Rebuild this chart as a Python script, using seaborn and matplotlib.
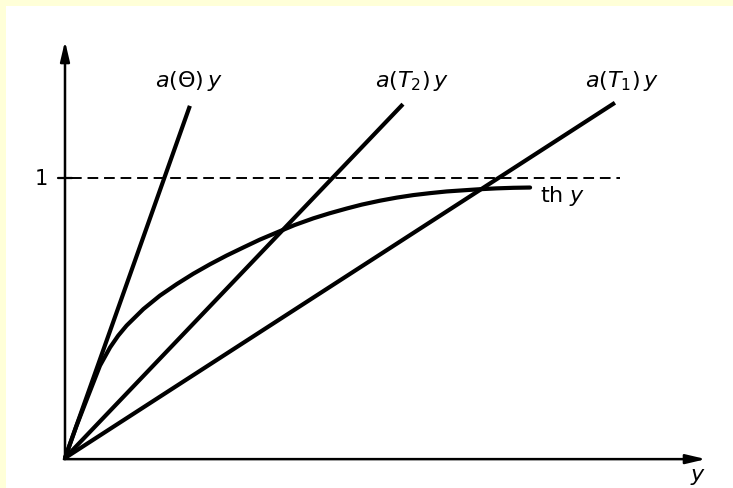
import matplotlib
matplotlib.use("Agg")
import matplotlib.pyplot as plt
import seaborn as sns
import numpy as np

sns.set_theme(style="white")
plt.rcParams["font.family"] = ["DejaVu Sans"]
plt.rcParams["mathtext.fontset"] = "dejavusans"

# tanh-like saturation curve (th y), read as (y, value) pairs
th_x = [0.0, 0.04, 0.08, 0.125, 0.161, 0.190, 0.220, 0.280, 0.339, 0.399,
        0.458, 0.518, 0.577, 0.637, 0.696, 0.760, 0.820, 0.887, 0.945, 1.006,
        1.060, 1.125, 1.185, 1.244, 1.304, 1.363, 1.422, 1.482, 1.541, 1.601,
        1.661]
th_v = [0.0, 0.112, 0.215, 0.330, 0.395, 0.437, 0.473, 0.532, 0.580, 0.621,
        0.658, 0.692, 0.723, 0.752, 0.780, 0.807, 0.832, 0.856, 0.874, 0.891,
        0.905, 0.919, 0.930, 0.939, 0.946, 0.952, 0.956, 0.960, 0.963, 0.965,
        0.966]

# straight lines a(T)·y through the origin: slope and end abscissa
line_labels = [r"$a(\Theta)\,y$", r"$a(T_2)\,y$", r"$a(T_1)\,y$"]
line_slopes = [2.82, 1.047, 0.646]
line_xend = [0.446, 1.207, 1.964]
label_x = [0.321, 1.107, 1.857]
label_y = [1.329, 1.329, 1.329]

level_one = 1.0
level_xend = 1.982

W, H = 733, 489
fig = plt.figure(figsize=(W / 100, H / 100), dpi=100)
fig.patch.set_facecolor("#FFFFD8")
ax = fig.add_axes([6 / W, 0, 1 - 6 / W, 1 - 7 / H])
ax.set_facecolor("white")
ax.set_xlim(-0.2107, 2.3857)
ax.set_ylim(-0.1071, 1.6143)
for sp in ax.spines.values():
    sp.set_visible(False)
ax.set_xticks([])
ax.set_yticks([])
ax.grid(False)

lw = 3.0
for s, xe in zip(line_slopes, line_xend):
    xs = np.array([0.0, xe])
    sns.lineplot(x=xs, y=s * xs, ax=ax, color="black", lw=lw,
                 solid_capstyle="butt", sort=False)

sns.lineplot(x=th_x, y=th_v, ax=ax, color="black", lw=lw,
             solid_capstyle="round", solid_joinstyle="round", sort=False)

# dashed level y = 1 and its tick
ax.plot([0.02, level_xend], [level_one, level_one], color="black", lw=1.4,
        dashes=(5.5, 3))
ax.plot([-0.025, 0.025], [level_one, level_one], color="black", lw=1.6)
ax.text(-0.061, level_one, "1", ha="right", va="center", fontsize=15,
        color="black")

# axes with arrowheads
arrow = dict(arrowstyle="-|>,head_length=0.85,head_width=0.2",
             lw=1.8, color="black", mutation_scale=14, shrinkA=0, shrinkB=0)
ax.annotate("", xy=(0, 1.489), xytext=(0, -0.004), arrowprops=arrow)
ax.annotate("", xy=(2.289, -0.004), xytext=(-0.004, -0.004), arrowprops=arrow)

for lab, tx, ty in zip(line_labels, label_x, label_y):
    ax.text(tx, ty, lab, ha="left", va="baseline", fontsize=16, color="black")

ax.text(1.696, 0.918, r"th $y$", ha="left", va="baseline", fontsize=16,
        color="black")
ax.text(2.232, -0.029, r"$y$", ha="left", va="top", fontsize=16,
        color="black")

fig.savefig("out.png", dpi=100, facecolor=fig.get_facecolor())
